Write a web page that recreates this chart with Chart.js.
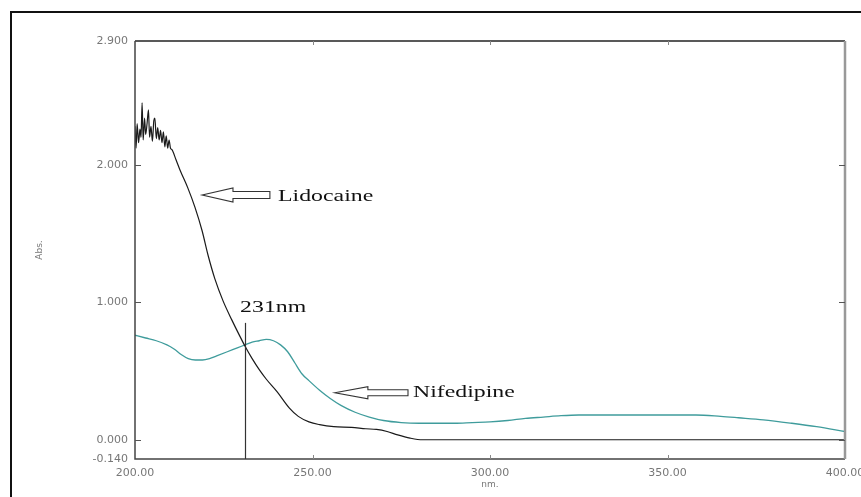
<!DOCTYPE html>
<html>
<head>
<meta charset="utf-8">
<script src="https://cdn.jsdelivr.net/npm/chart.js@4/dist/chart.umd.min.js"></script>
<style>
  body { margin: 0; background: #fff; }
  #kutu { width: 861px; height: 497px; position: relative; }
</style>
</head>
<body>
<div id="kutu"><canvas id="spektrum"></canvas></div>
<script>
// Lidocaine spectrum (nm / Abs)
const lidoDalga = [
  200.0, 200.3, 200.6, 201.0, 201.4, 201.7, 202.0, 202.3, 202.7, 203.0,
  203.4, 203.8, 204.1, 204.5, 204.9, 205.3, 205.6, 206.0, 206.4, 206.8,
  207.2, 207.6, 208.0, 208.4, 208.8, 209.2, 209.6, 210.0, 210.4, 211.5,
  212.7, 214.9, 216.9, 218.9, 220.6, 222.5, 224.8, 227.3, 229.6, 231.0,
  233.0, 235.0, 237.0, 240.0, 243.5, 246.0, 249.0, 252.0, 256.0, 261.0,
  265.0, 268.0, 271.0, 274.0, 277.5, 281.0, 300.0, 350.0, 400.0
];
const lidoAbs = [
  2.28, 2.12, 2.30, 2.16, 2.26, 2.20, 2.45, 2.18, 2.34, 2.22,
  2.30, 2.40, 2.20, 2.28, 2.17, 2.32, 2.34, 2.19, 2.27, 2.18,
  2.25, 2.16, 2.24, 2.13, 2.21, 2.12, 2.18, 2.12, 2.11, 2.04,
  1.96, 1.83, 1.69, 1.52, 1.34, 1.17, 1.01, 0.87, 0.75, 0.68,
  0.59, 0.51, 0.44, 0.35, 0.23, 0.17, 0.13, 0.11, 0.095, 0.09,
  0.08, 0.075, 0.06, 0.035, 0.012, 0.0, 0.0, 0.0, 0.0
];

// Nifedipine spectrum (nm / Abs)
const nifeDalga = [
  200, 203, 206, 209, 211, 213, 215, 217, 219, 221,
  223, 226, 229, 231, 233, 235, 237, 239, 241, 243,
  245, 247, 249, 252, 255, 258, 262, 266, 270, 275,
  280, 285, 290, 295, 300, 305, 310, 315, 320, 325,
  330, 340, 350, 358, 365, 370, 377, 385, 392, 400
];
const nifeAbs = [
  0.76, 0.74, 0.72, 0.69, 0.66, 0.62, 0.59, 0.58, 0.58, 0.59,
  0.61, 0.64, 0.67, 0.69, 0.71, 0.72, 0.73, 0.72, 0.69, 0.64,
  0.56, 0.48, 0.43, 0.36, 0.30, 0.25, 0.20, 0.165, 0.14, 0.125,
  0.12, 0.12, 0.12, 0.125, 0.13, 0.14, 0.155, 0.165, 0.175, 0.18,
  0.18, 0.18, 0.18, 0.18, 0.17, 0.16, 0.145, 0.12, 0.095, 0.06
];

// Eksen değerleri
const xTikler = [200, 250, 300, 350, 400];
const yTikler = [-0.14, 0.0, 1.0, 2.0, 2.9];
const icTikY = [0.0, 1.0, 2.0];
const icTikX = [250, 300, 350];

// Etiketler
const lidoEtiket = "Lidocaine";
const nifeEtiket = "Nifedipine";
const dalgaEtiket = "231nm";
const dalgaCizgi = 231;

const noktalar = (xs, ys) => xs.map((x, i) => ({ x: x, y: ys[i] }));

// Çerçeve, iç tikler, oklar ve yazılar
const cizimEklentisi = {
  id: 'cizim',
  afterDatasetsDraw(chart) {
    const ctx = chart.ctx;
    const a = chart.chartArea;
    const xs = chart.scales.x, ys = chart.scales.y;
    ctx.save();

    // dış çerçeve
    ctx.strokeStyle = '#111';
    ctx.lineWidth = 2;
    ctx.beginPath();
    ctx.moveTo(11, 497); ctx.lineTo(11, 12); ctx.lineTo(861, 12);
    ctx.stroke();

    // grafik kutusu
    ctx.lineWidth = 1.5;
    ctx.strokeStyle = '#222';
    ctx.beginPath(); ctx.moveTo(a.left, a.top); ctx.lineTo(a.right, a.top); ctx.stroke();
    ctx.strokeStyle = '#444';
    ctx.beginPath(); ctx.moveTo(a.left, a.top); ctx.lineTo(a.left, a.bottom); ctx.lineTo(a.right, a.bottom); ctx.stroke();
    ctx.strokeStyle = '#999';
    ctx.lineWidth = 2.5;
    ctx.beginPath(); ctx.moveTo(a.right, a.top); ctx.lineTo(a.right, a.bottom); ctx.stroke();

    // iç tikler
    ctx.strokeStyle = '#555';
    ctx.lineWidth = 1;
    icTikY.forEach(v => {
      const py = Math.round(ys.getPixelForValue(v)) + 0.5;
      ctx.beginPath();
      ctx.moveTo(a.left, py); ctx.lineTo(a.left + 6, py);
      ctx.moveTo(a.right, py); ctx.lineTo(a.right - 6, py);
      ctx.stroke();
    });
    ctx.strokeStyle = '#888';
    icTikX.forEach(v => {
      const px = Math.round(xs.getPixelForValue(v)) + 0.5;
      ctx.beginPath();
      ctx.moveTo(px, a.bottom); ctx.lineTo(px, a.bottom - 4);
      ctx.moveTo(px, a.top); ctx.lineTo(px, a.top + 4);
      ctx.stroke();
    });

    // 231 nm dikey çizgi
    const vx = Math.round(xs.getPixelForValue(dalgaCizgi)) + 0.5;
    ctx.strokeStyle = '#333';
    ctx.lineWidth = 1.2;
    ctx.beginPath();
    ctx.moveTo(vx, ys.getPixelForValue(0.85));
    ctx.lineTo(vx, a.bottom);
    ctx.stroke();

    // oklar
    const ok = (uc, govde, son, deger, bas, sap) => {
      const x1 = xs.getPixelForValue(uc), x2 = xs.getPixelForValue(govde), x3 = xs.getPixelForValue(son);
      const y = ys.getPixelForValue(deger);
      ctx.beginPath();
      ctx.moveTo(x1, y);
      ctx.lineTo(x2, y - bas);
      ctx.lineTo(x2, y - sap);
      ctx.lineTo(x3, y - sap);
      ctx.lineTo(x3, y + sap);
      ctx.lineTo(x2, y + sap);
      ctx.lineTo(x2, y + bas);
      ctx.closePath();
      ctx.fillStyle = '#fff';
      ctx.fill();
      ctx.strokeStyle = '#333';
      ctx.lineWidth = 1.1;
      ctx.stroke();
    };
    ok(218.9, 227.6, 238.0, 1.78, 7, 3.5);
    ok(256.3, 265.6, 276.9, 0.342, 6, 3);

    // yazılar (yatayda biraz geniş)
    const yazi = (metin, dalga, deger) => {
      ctx.save();
      ctx.translate(xs.getPixelForValue(dalga), ys.getPixelForValue(deger));
      ctx.scale(1.4, 1);
      ctx.font = '17px "Liberation Serif"';
      ctx.fillStyle = '#111';
      ctx.textBaseline = 'middle';
      ctx.textAlign = 'left';
      ctx.fillText(metin, 0, 0);
      ctx.restore();
    };
    yazi(lidoEtiket, 240.3, 1.77);
    yazi(nifeEtiket, 278.3, 0.34);
    yazi(dalgaEtiket, 229.6, 0.96);

    ctx.restore();
  }
};

new Chart(document.getElementById('spektrum'), {
  type: 'line',
  data: {
    datasets: [
      {
        label: lidoEtiket,
        data: noktalar(lidoDalga, lidoAbs),
        borderColor: '#1a1a1a',
        borderWidth: 1.2,
        pointRadius: 0,
        cubicInterpolationMode: 'monotone',
        fill: false
      },
      {
        label: nifeEtiket,
        data: noktalar(nifeDalga, nifeAbs),
        borderColor: '#3f9c9c',
        borderWidth: 1.3,
        pointRadius: 0,
        cubicInterpolationMode: 'monotone',
        fill: false
      }
    ]
  },
  options: {
    responsive: true,
    maintainAspectRatio: false,
    animation: false,
    layout: { padding: { top: 41, right: 16, left: 0, bottom: 0 } },
    scales: {
      x: {
        type: 'linear',
        min: 200,
        max: 400,
        afterBuildTicks: s => { s.ticks = xTikler.map(v => ({ value: v })); },
        afterFit: s => { s.height = 38; s.paddingLeft = 0; s.paddingRight = 0; },
        ticks: {
          autoSkip: false,
          maxRotation: 0,
          padding: 8,
          color: '#777',
          font: { family: 'DejaVu Sans', size: 11 },
          callback: v => Number(v).toFixed(2)
        },
        grid: { drawOnChartArea: false, drawTicks: false },
        border: { display: false },
        title: {
          display: true,
          text: 'nm.',
          color: '#777',
          font: { family: 'DejaVu Sans', size: 9 },
          padding: { top: 0, bottom: 7 }
        }
      },
      y: {
        min: -0.14,
        max: 2.9,
        afterBuildTicks: s => { s.ticks = yTikler.map(v => ({ value: v })); },
        afterFit: s => { s.width = 135; s.paddingTop = 0; s.paddingBottom = 0; },
        ticks: {
          autoSkip: false,
          padding: 7,
          color: '#777',
          font: { family: 'DejaVu Sans', size: 11 },
          callback: v => Number(v).toFixed(3)
        },
        grid: { drawOnChartArea: false, drawTicks: false },
        border: { display: false },
        title: {
          display: true,
          text: 'Abs.',
          color: '#777',
          font: { family: 'DejaVu Sans', size: 9 },
          padding: { top: 34, bottom: 0 }
        }
      }
    },
    plugins: {
      legend: { display: false },
      tooltip: { enabled: false }
    }
  },
  plugins: [cizimEklentisi]
});
</script>
</body>
</html>
